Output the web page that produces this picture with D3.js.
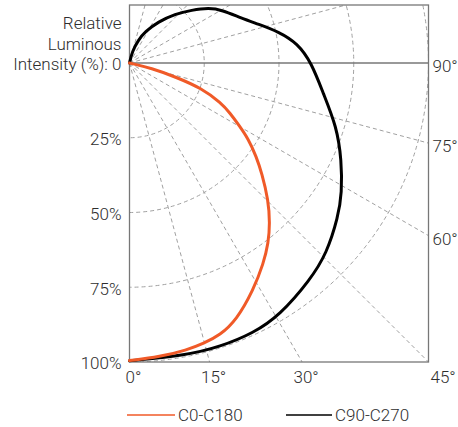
<!DOCTYPE html>
<html>
<head>
<meta charset="utf-8">
<script src="https://cdn.jsdelivr.net/npm/d3@7/dist/d3.min.js"></script>
<style>
  html, body { margin: 0; padding: 0; background: #fff; }
  svg { display: block; }
  text { font-family: Roboto, "Liberation Sans", Arial, sans-serif; font-weight: 300; fill: #2e2e2e; }
</style>
</head>
<body>
<svg id="chart" width="458" height="427"></svg>
<script>
// ---- Data (angle in degrees from nadir, relative intensity in %) ----
const seriesNames = ["C0-C180", "C90-C270"];
const seriesColors = ["#f05a28", "#000000"];

const c0Angles = [0, 5.9, 11.3, 14.8, 18.4, 22.6, 28.6, 33.8, 37.6, 41.2, 45.4, 50.2, 53.5, 57.4, 60.3, 63.5, 66.4, 70.7, 73.2, 76.6, 80];
const c0Values = [99.5, 98.8, 97.9, 97, 95.9, 93.1, 86.5, 80.6, 76.1, 71.3, 65.2, 57.6, 52.8, 47.2, 42.2, 37.6, 33.4, 25.6, 15.9, 7.6, 0];

const c90Angles = [0, 11.1, 17.7, 24.6, 30.8, 39.8, 46, 53.6, 58.5, 65.4, 72.9, 81.1, 90, 96.7, 101.9, 106.8, 111.7, 119.9, 124.8, 130.4, 137.1, 145.1, 153.6, 159, 167, 180];
const c90Values = [99.6, 99.6, 99.6, 99.4, 98.2, 94.4, 91.7, 86.7, 83.3, 78, 72.5, 65.6, 60.9, 56.6, 50.9, 45, 40.4, 35.6, 32.3, 27.3, 22.4, 16.8, 11.7, 8.2, 4, 0];

const radialTicks = [25, 50, 75, 100];
const radialTickLabels = ["25%", "50%", "75%", "100%"];
const gridAngles = [15, 30, 45, 60, 75, 105, 120, 135, 150, 165];
const bottomAngleTicks = [0, 15, 30, 45];
const bottomAngleLabels = ["0°", "15°", "30°", "45°"];
const sideAngleTicks = [60, 75, 90];
const sideAngleLabels = ["60°", "75°", "90°"];
const titleLines = ["Relative", "Luminous", "Intensity (%): 0"];

// ---- Layout ----
const cx = 129.5, cy = 63, R = 299;
const frameTop = 5;
const svg = d3.select("#chart");
const r = d3.scaleLinear().domain([0, 100]).range([0, R]);
const deg = Math.PI / 180;

svg.append("defs").append("clipPath").attr("id", "frameClip")
  .append("rect").attr("x", cx).attr("y", frameTop).attr("width", R).attr("height", cy + R - frameTop);

const grid = svg.append("g").attr("clip-path", "url(#frameClip)")
  .attr("fill", "none").attr("stroke", "#a0a0a0").attr("stroke-width", 1).attr("stroke-dasharray", "4,3");

grid.selectAll("circle").data(radialTicks).join("circle")
  .attr("cx", cx).attr("cy", cy).attr("r", d => r(d));

grid.selectAll("line").data(gridAngles).join("line")
  .attr("x1", cx).attr("y1", cy)
  .attr("x2", d => cx + 2 * R * Math.sin(d * deg))
  .attr("y2", d => cy + 2 * R * Math.cos(d * deg));

// frame and 90° line
svg.append("rect").attr("x", cx).attr("y", frameTop).attr("width", R).attr("height", cy + R - frameTop)
  .attr("fill", "none").attr("stroke", "#777").attr("stroke-width", 1.3);
svg.append("line").attr("x1", cx).attr("x2", cx + R).attr("y1", cy).attr("y2", cy)
  .attr("stroke", "#777").attr("stroke-width", 1.3);

// curves
const radial = d3.lineRadial()
  .angle(d => Math.PI - d[0] * deg)
  .radius(d => r(d[1]))
  .curve(d3.curveBasis);

const series = [
  { name: seriesNames[1], color: seriesColors[1], pts: c90Angles.map((a, i) => [a, c90Values[i]]) },
  { name: seriesNames[0], color: seriesColors[0], pts: c0Angles.map((a, i) => [a, c0Values[i]]) }
];
svg.append("g").attr("transform", `translate(${cx},${cy})`)
  .selectAll("path").data(series).join("path")
  .attr("d", d => radial(d.pts))
  .attr("fill", "none").attr("stroke", d => d.color).attr("stroke-width", 3)
  .attr("stroke-linejoin", "round").attr("stroke-linecap", "round");

// labels
const fs = 17;
const lbl = svg.append("g").attr("font-size", fs);
lbl.selectAll("text.title").data(titleLines).join("text").attr("class", "title")
  .attr("x", cx - 8).attr("y", (d, i) => cy + 1.5 - (titleLines.length - 1 - i) * 20.5)
  .attr("dy", "0.35em").attr("text-anchor", "end").text(d => d);

lbl.selectAll("text.rt").data(radialTicks).join("text").attr("class", "rt")
  .attr("x", cx - 8).attr("y", d => cy + r(d) + 1.5)
  .attr("dy", "0.35em").attr("text-anchor", "end").text((d, i) => radialTickLabels[i]);

lbl.selectAll("text.bt").data(bottomAngleTicks).join("text").attr("class", "bt")
  .attr("x", (d, i) => cx + R * Math.tan(d * deg) + (i === bottomAngleTicks.length - 1 ? 2 : 4))
  .attr("y", cy + R + 21)
  .attr("text-anchor", (d, i) => i === bottomAngleTicks.length - 1 ? "start" : "middle")
  .text((d, i) => bottomAngleLabels[i]);

lbl.selectAll("text.st").data(sideAngleTicks).join("text").attr("class", "st")
  .attr("x", cx + R + 4)
  .attr("y", d => cy + (d === 90 ? 0 : R / Math.tan(d * deg)) + 3)
  .attr("dy", "0.35em").attr("text-anchor", "start")
  .text((d, i) => sideAngleLabels[i]);

// legend
const legendItems = [
  { name: seriesNames[0], color: seriesColors[0], x: 127, len: 48 },
  { name: seriesNames[1], color: seriesColors[1], x: 286, len: 46 }
];
const lg = svg.append("g").attr("font-size", fs);
const ly = 415;
legendItems.forEach(it => {
  lg.append("line").attr("x1", it.x).attr("x2", it.x + it.len).attr("y1", ly).attr("y2", ly)
    .attr("stroke", it.color).attr("stroke-width", 1.5);
  lg.append("text").attr("x", it.x + it.len + 3).attr("y", ly).attr("dy", "0.38em").text(it.name);
});
</script>
</body>
</html>
